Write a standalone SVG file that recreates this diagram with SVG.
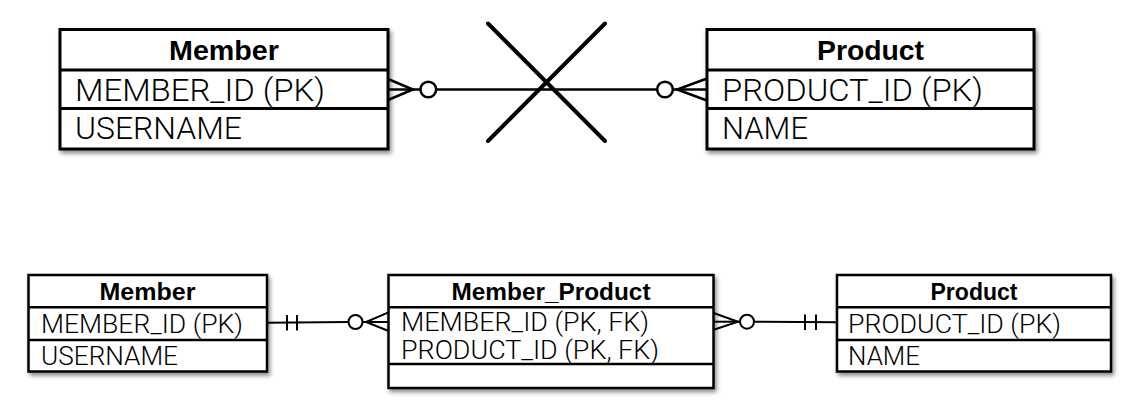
<svg xmlns="http://www.w3.org/2000/svg" width="1140" height="414" viewBox="0 0 1140 414">
<defs>
<filter id="sh" x="-5%" y="-10%" width="115%" height="130%">
<feDropShadow dx="2" dy="3" stdDeviation="2" flood-color="#000" flood-opacity="0.45"/>
</filter>
<style>
.box{fill:#fff;stroke:#000;filter:url(#sh)}
.big{stroke-width:3}
.small{stroke-width:2.5}
.div{stroke:#000;fill:none}
.hd{font-family:"Liberation Sans",Arial,sans-serif;font-weight:bold;fill:#000;text-anchor:middle}
.at{font-family:Roboto,"Liberation Sans",Arial,sans-serif;font-weight:300;fill:#000}
.c{stroke:#000;fill:none;stroke-linecap:butt}
.o{stroke:#000;fill:#fff}
</style>
</defs>
<rect width="1140" height="414" fill="#fff"/>

<g id="connectors">
<g class="c" stroke-width="2.5">
<line x1="388" y1="89.5" x2="420.5" y2="89.5"/>
<polyline points="388,79 413,89.5 388,100"/>
<line x1="436" y1="89.5" x2="657" y2="89.5"/>
<line x1="673" y1="89.5" x2="707" y2="89.5"/>
<polyline points="707,78.5 677,89.5 707,100.5"/>
</g>
<circle class="o" cx="428.3" cy="89.5" r="7.8" stroke-width="2.5"/>
<circle class="o" cx="665" cy="89.5" r="7.8" stroke-width="2.5"/>
<g stroke="#000" stroke-width="4" stroke-linecap="round">
<line x1="488" y1="23.5" x2="605" y2="141"/>
<line x1="605" y1="23.5" x2="488" y2="141"/>
</g>
<g class="c" stroke-width="2">
<line x1="267" y1="322.8" x2="348.5" y2="322"/>
<line x1="287" y1="315" x2="287" y2="330.5"/>
<line x1="297" y1="315" x2="297" y2="330.5"/>
<line x1="362.5" y1="322" x2="388" y2="322"/>
<polyline points="388,312.7 366,322 388,330.7"/>
</g>
<circle class="o" cx="355.5" cy="322" r="7" stroke-width="2"/>
<g class="c" stroke-width="2">
<line x1="713" y1="321.7" x2="740" y2="321.7"/>
<polyline points="713,312.7 738,321.7 713,330"/>
<line x1="754" y1="321.7" x2="837" y2="322.3"/>
<line x1="805" y1="314.5" x2="805" y2="330"/>
<line x1="816" y1="314.5" x2="816" y2="330"/>
</g>
<circle class="o" cx="747" cy="321.7" r="7" stroke-width="2"/>
</g>

<g id="member-top">
<rect class="box big" x="60" y="29.5" width="328" height="119.5"/>
<line class="div" stroke-width="3" x1="60" y1="70" x2="388" y2="70"/>
<line class="div" stroke-width="3" x1="60" y1="108.5" x2="388" y2="108.5"/>
<text class="hd" x="224" y="59.5" font-size="28" textLength="110" lengthAdjust="spacingAndGlyphs">Member</text>
<text class="at" x="75" y="100.5" font-size="31.5" textLength="250" lengthAdjust="spacingAndGlyphs">MEMBER_ID (PK)</text>
<text class="at" x="75" y="138.5" font-size="31.5" textLength="167" lengthAdjust="spacingAndGlyphs">USERNAME</text>
</g>

<g id="product-top">
<rect class="box big" x="707" y="29.5" width="327" height="119.5"/>
<line class="div" stroke-width="3" x1="707" y1="70" x2="1034" y2="70"/>
<line class="div" stroke-width="3" x1="707" y1="108.5" x2="1034" y2="108.5"/>
<text class="hd" x="870.5" y="59.5" font-size="28" textLength="107" lengthAdjust="spacingAndGlyphs">Product</text>
<text class="at" x="722" y="100.5" font-size="31.5" textLength="261" lengthAdjust="spacingAndGlyphs">PRODUCT_ID (PK)</text>
<text class="at" x="722" y="138.5" font-size="31.5" textLength="86" lengthAdjust="spacingAndGlyphs">NAME</text>
</g>

<g id="member-bottom">
<rect class="box small" x="28.5" y="275" width="238.5" height="96.5"/>
<line class="div" stroke-width="2.5" x1="28.5" y1="307.3" x2="267" y2="307.3"/>
<line class="div" stroke-width="2.5" x1="28.5" y1="340" x2="267" y2="340"/>
<text class="hd" x="147.5" y="299.5" font-size="24" textLength="96" lengthAdjust="spacingAndGlyphs">Member</text>
<text class="at" x="41" y="332.5" font-size="25.5" textLength="202" lengthAdjust="spacingAndGlyphs">MEMBER_ID (PK)</text>
<text class="at" x="41" y="364.5" font-size="25.5" textLength="137" lengthAdjust="spacingAndGlyphs">USERNAME</text>
</g>

<g id="member-product">
<rect class="box small" x="388.5" y="275" width="325" height="113"/>
<line class="div" stroke-width="2.5" x1="388.5" y1="307.3" x2="713.5" y2="307.3"/>
<line class="div" stroke-width="2.5" x1="388.5" y1="364" x2="713.5" y2="364"/>
<text class="hd" x="551" y="299.5" font-size="24" textLength="199" lengthAdjust="spacingAndGlyphs">Member_Product</text>
<text class="at" x="401" y="331" font-size="25.5" textLength="248" lengthAdjust="spacingAndGlyphs">MEMBER_ID (PK, FK)</text>
<text class="at" x="401" y="358.5" font-size="25.5" textLength="258" lengthAdjust="spacingAndGlyphs">PRODUCT_ID (PK, FK)</text>
</g>

<g id="product-bottom">
<rect class="box small" x="837" y="275" width="274" height="96.5"/>
<line class="div" stroke-width="2.5" x1="837" y1="307.3" x2="1111" y2="307.3"/>
<line class="div" stroke-width="2.5" x1="837" y1="340" x2="1111" y2="340"/>
<text class="hd" x="974" y="299.5" font-size="24" textLength="87" lengthAdjust="spacingAndGlyphs">Product</text>
<text class="at" x="848" y="332.5" font-size="25.5" textLength="213" lengthAdjust="spacingAndGlyphs">PRODUCT_ID (PK)</text>
<text class="at" x="848" y="364.5" font-size="25.5" textLength="72" lengthAdjust="spacingAndGlyphs">NAME</text>
</g>
</svg>
